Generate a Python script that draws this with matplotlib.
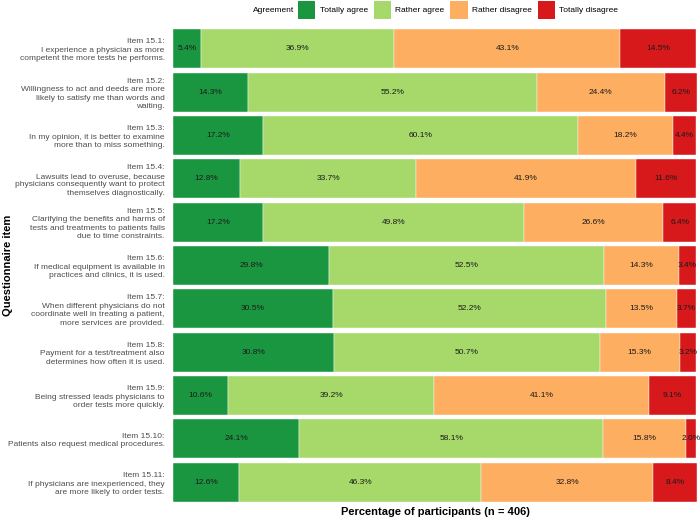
import matplotlib.pyplot as plt
from matplotlib.patches import Patch
import numpy as np

plt.rcParams['font.family'] = ['Liberation Sans', 'DejaVu Sans']

items = [
    "Item 15.1:\nI experience a physician as more\ncompetent the more tests he performs.",
    "Item 15.2:\nWillingness to act and deeds are more\nlikely to satisfy me than words and\nwaiting.",
    "Item 15.3:\nIn my opinion, it is better to examine\nmore than to miss something.",
    "Item 15.4:\nLawsuits lead to overuse, because\nphysicians consequently want to protect\nthemselves diagnostically.",
    "Item 15.5:\nClarifying the benefits and harms of\ntests and treatments to patients fails\ndue to time constraints.",
    "Item 15.6:\nIf medical equipment is available in\npractices and clinics, it is used.",
    "Item 15.7:\nWhen different physicians do not\ncoordinate well in treating a patient,\nmore services are provided.",
    "Item 15.8:\nPayment for a test/treatment also\ndetermines how often it is used.",
    "Item 15.9:\nBeing stressed leads physicians to\norder tests more quickly.",
    "Item 15.10:\nPatients also request medical procedures.",
    "Item 15.11:\nIf physicians are inexperienced, they\nare more likely to order tests.",
]
categories = ["Totally agree", "Rather agree", "Rather disagree", "Totally disagree"]
totally_agree = [5.4, 14.3, 17.2, 12.8, 17.2, 29.8, 30.5, 30.8, 10.6, 24.1, 12.6]
rather_agree = [36.9, 55.2, 60.1, 33.7, 49.8, 52.5, 52.2, 50.7, 39.2, 58.1, 46.3]
rather_disagree = [43.1, 24.4, 18.2, 41.9, 26.6, 14.3, 13.5, 15.3, 41.1, 15.8, 32.8]
totally_disagree = [14.5, 6.2, 4.4, 11.6, 6.4, 3.4, 3.7, 3.2, 9.1, 2.0, 8.4]
colors = ["#1a9641", "#a6d96a", "#fdae61", "#d7191c"]

series = [totally_agree, rather_agree, rather_disagree, totally_disagree]

fig = plt.figure(figsize=(7, 5.19), dpi=100)
ax = fig.add_axes([173 / 700, 1 - 504 / 519, 524 / 700, 477 / 519])

y = np.arange(len(items))
left = np.zeros(len(items))
for vals, col in zip(series, colors):
    vals = np.array(vals)
    ax.barh(y, vals, left=left, height=0.9, color=col, edgecolor='white', linewidth=0.3)
    for yi, l, v in zip(y, left, vals):
        ax.text(l + v / 2, yi, f"{v:.1f}%", ha='center', va='center', fontsize=6, color='#1a1a1a')
    left += vals

ax.set_xlim(0, left.max())
ax.set_ylim(len(items) - 0.5, -0.5)
ax.set_yticks(y)
ax.set_yticklabels(items, fontsize=6, color='#4d4d4d', linespacing=1.3)
ax.set_xticks([])
ax.tick_params(axis='y', length=0, pad=6)
for s in ax.spines.values():
    s.set_visible(False)

fig.text(435 / 700, 1 - 512 / 519, "Percentage of participants (n = 406)", ha='center', va='center',
         fontsize=8, fontweight='bold')
fig.text(8 / 700, 1 - 265 / 519, "Questionnaire item", ha='center', va='center', rotation=90,
         fontsize=8, fontweight='bold')

handles = [Patch(facecolor=c, edgecolor='none') for c in colors]
fig.legend(handles, categories, ncol=4, loc='center', bbox_to_anchor=(458 / 700, 1 - 10 / 519),
           frameon=False, fontsize=6, handlelength=2.1, handleheight=2.8,
           handletextpad=0.5, columnspacing=0.7, borderaxespad=0, borderpad=0)
fig.text(294 / 700, 1 - 10 / 519, "Agreement", ha='right', va='center', fontsize=6)

fig.savefig("out.png", dpi=100)
